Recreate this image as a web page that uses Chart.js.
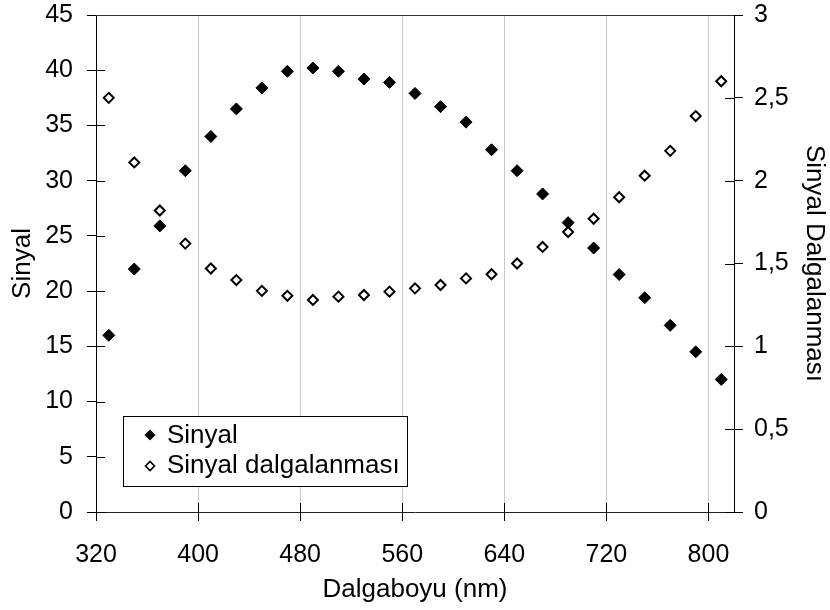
<!DOCTYPE html>
<html>
<head>
<meta charset="utf-8">
<title>Sinyal</title>
<script src="https://cdn.jsdelivr.net/npm/chart.js@4.4.0/dist/chart.umd.min.js"></script>
<style>
  body { margin: 0; background: #fff; }
  #wrap { width: 830px; height: 610px; }
</style>
</head>
<body>
<div id="wrap"><canvas id="chart" width="830" height="610"></canvas></div>
<script>
// values
const wavelengths = [330, 350, 370, 390, 410, 430, 450, 470, 490, 510, 530, 550, 570,
                     590, 610, 630, 650, 670, 690, 710, 730, 750, 770, 790, 810];
const sinyal = [16, 22, 25.9, 30.9, 34, 36.5, 38.4, 39.9, 40.2, 39.9, 39.2, 38.9, 37.9,
                36.7, 35.3, 32.8, 30.9, 28.8, 26.2, 23.9, 21.5, 19.4, 16.9, 14.5, 12];
const dalgalanma = [2.5, 2.11, 1.82, 1.62, 1.47, 1.4, 1.335, 1.305, 1.28, 1.3, 1.31, 1.33, 1.35,
                    1.37, 1.41, 1.435, 1.5, 1.6, 1.69, 1.77, 1.9, 2.03, 2.18, 2.39, 2.6];
const xTicks = [320, 400, 480, 560, 640, 720, 800];
const leftTicks = [0, 5, 10, 15, 20, 25, 30, 35, 40, 45];
const rightTicks = [0, 0.5, 1, 1.5, 2, 2.5, 3];

const FONT = "'Liberation Sans', Arial, sans-serif";
const TICK_IN = 9;

function setTicks(list) {
    return function(scale) {
        scale.ticks = list.map(v => ({ value: v }));
    };
}

// fixed axis sizes so the plot area sits where it does in the reference
function fixWidth(w) {
    return function(scale) {
        scale.width = w;
        scale.paddingTop = 0;
        scale.paddingBottom = 0;
    };
}

// tick marks that also cross into the plot area, plus the top frame line
const crossTicks = {
    id: 'crossTicks',
    afterDraw(chart) {
        const ctx = chart.ctx;
        const area = chart.chartArea;
        const s = chart.scales;
        ctx.save();
        ctx.strokeStyle = '#000';
        ctx.lineWidth = 1;
        ctx.beginPath();
        xTicks.forEach(v => {
            const px = Math.round(s.x.getPixelForValue(v)) + 0.5;
            ctx.moveTo(px, area.bottom);
            ctx.lineTo(px, area.bottom - TICK_IN);
        });
        leftTicks.forEach(v => {
            const py = Math.round(s.y.getPixelForValue(v)) + 0.5;
            ctx.moveTo(area.left, py);
            ctx.lineTo(area.left + TICK_IN, py);
        });
        rightTicks.forEach(v => {
            const py = Math.round(s.y2.getPixelForValue(v)) + 0.5;
            ctx.moveTo(area.right, py);
            ctx.lineTo(area.right - TICK_IN, py);
        });
        ctx.stroke();

        ctx.strokeStyle = '#333';
        ctx.beginPath();
        const top = Math.round(area.top) + 0.5;
        ctx.moveTo(area.left, top);
        ctx.lineTo(area.right, top);
        ctx.stroke();
        ctx.restore();
    }
};

// legend box inside the plot, lower left
const boxLegend = {
    id: 'boxLegend',
    afterDraw(chart) {
        const ctx = chart.ctx;
        const x = 123.5, y = 416.5, w = 284, h = 70;
        ctx.save();
        ctx.fillStyle = '#fff';
        ctx.fillRect(x, y, w, h);
        ctx.strokeStyle = '#000';
        ctx.lineWidth = 1;
        ctx.strokeRect(x, y, w, h);

        function diamond(cx, cy, r, filled) {
            ctx.beginPath();
            ctx.moveTo(cx - r, cy);
            ctx.lineTo(cx, cy - r);
            ctx.lineTo(cx + r, cy);
            ctx.lineTo(cx, cy + r);
            ctx.closePath();
            if (filled) {
                ctx.fillStyle = '#000';
                ctx.fill();
            } else {
                ctx.fillStyle = '#fff';
                ctx.fill();
                ctx.lineWidth = 1.6;
                ctx.stroke();
            }
        }
        diamond(150, 435, 5.5, true);
        diamond(150, 466, 4.5, false);

        ctx.fillStyle = '#000';
        ctx.font = '26px ' + FONT;
        ctx.textAlign = 'left';
        ctx.textBaseline = 'middle';
        chart.data.datasets.forEach((ds, i) => {
            ctx.fillText(ds.label, 167, 436 + i * 30);
        });
        ctx.restore();
    }
};

const ctx = document.getElementById('chart');

new Chart(ctx, {
    type: 'scatter',
    data: {
        datasets: [{
            label: 'Sinyal',
            data: wavelengths.map((w, i) => ({ x: w, y: sinyal[i] })),
            yAxisID: 'y',
            pointStyle: 'rectRot',
            pointRadius: 6,
            backgroundColor: '#000',
            borderColor: '#000',
            borderWidth: 1,
            order: 1
        }, {
            label: 'Sinyal dalgalanması',
            data: wavelengths.map((w, i) => ({ x: w, y: dalgalanma[i] })),
            yAxisID: 'y2',
            pointStyle: 'rectRot',
            pointRadius: 5,
            backgroundColor: '#fff',
            borderColor: '#000',
            borderWidth: 2,
            order: 0
        }]
    },
    options: {
        responsive: false,
        animation: false,
        layout: {
            padding: { top: 15, left: 0, right: 0, bottom: 0 }
        },
        plugins: {
            legend: { display: false },
            tooltip: { enabled: false }
        },
        scales: {
            x: {
                type: 'linear',
                min: 320,
                max: 820,
                afterBuildTicks: setTicks(xTicks),
                afterFit: function(scale) {
                    scale.height = 98;
                    scale.paddingLeft = 0;
                    scale.paddingRight = 0;
                },
                grid: {
                    color: '#c8c8c8',
                    tickColor: '#000',
                    tickLength: 9
                },
                border: { color: '#222' },
                ticks: {
                    color: '#000',
                    font: { family: FONT, size: 25 },
                    padding: 19,
                    maxRotation: 0
                },
                title: {
                    display: true,
                    text: 'Dalgaboyu (nm)',
                    color: '#000',
                    font: { family: FONT, size: 26 },
                    padding: { top: 0, bottom: 5 }
                }
            },
            y: {
                position: 'left',
                min: 0,
                max: 45,
                afterBuildTicks: setTicks(leftTicks),
                afterFit: fixWidth(96),
                grid: {
                    drawOnChartArea: false,
                    tickColor: '#000',
                    tickLength: 9
                },
                border: { color: '#000' },
                ticks: {
                    color: '#000',
                    font: { family: FONT, size: 25 },
                    padding: 14
                },
                title: {
                    display: true,
                    text: 'Sinyal',
                    color: '#000',
                    font: { family: FONT, size: 26 },
                    padding: { top: 7, bottom: 0 }
                }
            },
            y2: {
                position: 'right',
                min: 0,
                max: 3,
                afterBuildTicks: setTicks(rightTicks),
                afterFit: fixWidth(96),
                grid: {
                    drawOnChartArea: false,
                    tickColor: '#000',
                    tickLength: 9
                },
                border: { color: '#000' },
                ticks: {
                    color: '#000',
                    font: { family: FONT, size: 25 },
                    padding: 11,
                    callback: v => String(v).replace('.', ',')
                },
                title: {
                    display: true,
                    text: 'Sinyal Dalgalanması',
                    color: '#000',
                    font: { family: FONT, size: 26 },
                    padding: { top: 0, bottom: 0 }
                }
            }
        }
    },
    plugins: [crossTicks, boxLegend]
});
</script>
</body>
</html>
